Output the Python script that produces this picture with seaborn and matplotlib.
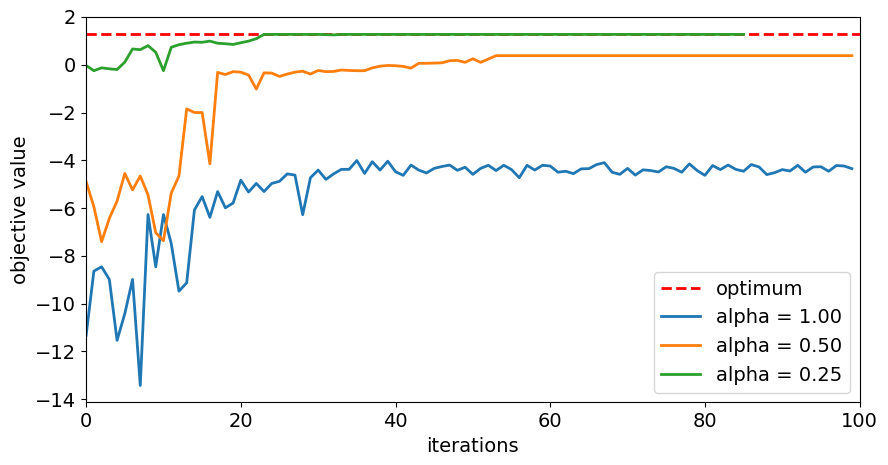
import numpy as np
import pandas as pd
import matplotlib
matplotlib.use("Agg")
import matplotlib.pyplot as plt
import seaborn as sns

optimum = 1.29
opt_x = [0, 100]

blue = [-11.33, -8.64, -8.46, -8.99, -11.54, -10.42, -8.99, -13.43, -6.27, -8.46,
        -6.27, -7.48, -9.48, -9.13, -6.08, -5.52, -6.39, -5.31, -5.99, -5.79,
        -4.83, -5.33, -4.97, -5.31, -4.97, -4.88, -4.57, -4.62, -6.28, -4.73,
        -4.41, -4.80, -4.57, -4.38, -4.38, -4.01, -4.55, -4.06, -4.41, -4.04,
        -4.48, -4.63, -4.20, -4.41, -4.53, -4.34, -4.26, -4.20, -4.42, -4.29,
        -4.59, -4.34, -4.21, -4.43, -4.21, -4.39, -4.73, -4.21, -4.41, -4.21,
        -4.24, -4.50, -4.46, -4.56, -4.36, -4.35, -4.18, -4.10, -4.50, -4.59,
        -4.34, -4.62, -4.40, -4.43, -4.49, -4.27, -4.34, -4.50, -4.15, -4.43,
        -4.63, -4.22, -4.39, -4.20, -4.38, -4.46, -4.18, -4.28, -4.60, -4.52,
        -4.39, -4.45, -4.21, -4.50, -4.28, -4.27, -4.46, -4.22, -4.24, -4.35]

orange = [-4.90, -5.94, -7.41, -6.43, -5.71, -4.55, -5.24, -4.66, -5.45, -7.03,
          -7.37, -5.38, -4.66, -1.85, -2.00, -2.00, -4.15, -0.32, -0.41, -0.29,
          -0.31, -0.43, -1.02, -0.34, -0.35, -0.49, -0.39, -0.31, -0.27, -0.39,
          -0.24, -0.29, -0.28, -0.22, -0.24, -0.25, -0.25, -0.13, -0.06, -0.03,
          -0.04, -0.07, -0.14, 0.06, 0.06, 0.07, 0.08, 0.17, 0.18, 0.10,
          0.25, 0.10, 0.24, 0.38] + [0.38] * 46

green = [-0.03, -0.25, -0.13, -0.17, -0.20, 0.11, 0.66, 0.63, 0.80, 0.52,
         -0.25, 0.73, 0.84, 0.90, 0.95, 0.94, 0.99, 0.90, 0.88, 0.85,
         0.92, 0.99, 1.09, 1.27, 1.27, 1.27, 1.27, 1.27, 1.27, 1.27,
         1.27, 1.26, 1.25, 1.27] + [1.27] * 52

labels = ["alpha = 1.00", "alpha = 0.50", "alpha = 0.25"]
colors = ["#1f77b4", "#ff7f0e", "#2ca02c"]

plt.rcParams["font.size"] = 14
fig = plt.figure(figsize=(8.88, 4.65), dpi=100)
ax = fig.add_axes([0.097, 0.135, 0.871, 0.8285])

sns.lineplot(x=opt_x, y=[optimum] * len(opt_x), ax=ax, color="red",
             linestyle="--", linewidth=2, label="optimum")
for series, lab, col in zip([blue, orange, green], labels, colors):
    sns.lineplot(x=np.arange(len(series)), y=series, ax=ax, color=col,
                 linewidth=2, label=lab)

ax.set_xlim(0, 100)
ax.set_ylim(-14.13, 2)
ax.set_yticks(np.arange(-14, 3, 2))
ax.set_xticks(np.arange(0, 101, 20))
ax.set_xlabel("iterations")
ax.set_ylabel("objective value")
ax.legend(loc="lower right", fontsize=14)

fig.savefig("out.png", dpi=100)
